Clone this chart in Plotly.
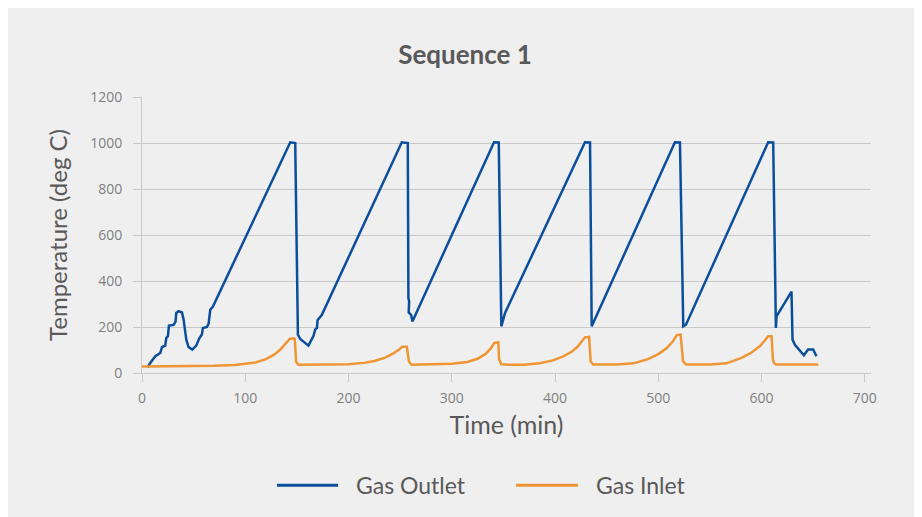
import plotly.graph_objects as go

# ---- data ----
outlet_time = [5.4, 8, 12.9, 17.7, 19.4, 22.5, 23.5, 25.1, 26.1, 30.6, 32.5, 33.2, 35.4, 38.7,
               40.3, 42.9, 45.1, 48.7, 52.5, 55.5, 58, 59, 62.9, 64.5, 66.1, 68.7,
               143.6, 148.4, 151, 153.2, 161.2, 166.1, 167.7, 169.4, 170, 174.2,
               251.6, 257.4, 258, 258.7, 258.3, 260.6, 261.9,
               340.9, 345.5, 348, 351.6,
               429, 433.9, 435.5,
               516.1, 521, 524.2, 526.8,
               606.4, 611.3, 613.9, 614.5, 629, 630, 632.3, 641, 645.1, 650, 653.2]
outlet_temp = [25, 44, 73, 87, 113, 119, 152, 160, 206, 209, 223, 261, 269, 263,
               232, 145, 113, 102, 119, 151, 167, 196, 200, 214, 275, 289,
               1003, 1000, 167, 148, 119, 162, 188, 196, 229, 253,
               1003, 1000, 326, 311, 263, 253, 224,
               1003, 1002, 203, 261,
               1003, 1002, 203,
               1003, 1002, 203, 210,
               1003, 1002, 196, 246, 354, 145, 123, 77, 102, 102, 73]

inlet_time = [0, 40, 70, 90, 100, 110, 120, 128, 134, 139, 143, 147, 148, 149.2, 151,
              152, 180, 200, 215, 225, 235, 243, 249, 252, 256.5, 258.5, 261,
              280, 300, 315, 325, 333, 338, 341, 345, 345.8, 348, 355,
              370, 385, 398, 408, 416, 422, 426, 429, 433, 434.5, 437,
              460, 476, 490, 500, 508, 514, 518, 521.6, 523, 524, 527,
              550, 566, 580, 590, 598, 603, 606.4, 609.7, 611, 612, 614, 655]
inlet_temp = [28, 29, 31, 35, 39, 46, 60, 80, 102, 125, 148, 151, 148, 50, 37,
              36, 37, 38, 44, 52, 66, 84, 102, 114, 114, 50, 36,
              37, 40, 48, 62, 84, 108, 130, 134, 60, 38, 36,
              36, 42, 55, 72, 92, 115, 137, 155, 157, 50, 37,
              37, 42, 60, 82, 107, 137, 165, 167, 80, 50, 37,
              37, 42, 65, 88, 115, 140, 160, 160, 60, 44, 37, 37]

series_names = ["Gas Outlet", "Gas Inlet"]
x_ticks = [0, 100, 200, 300, 400, 500, 600, 700]
y_ticks = [0, 200, 400, 600, 800, 1000, 1200]

title_text = "Sequence 1"
x_title = "Time (min)"
y_title = "Temperature (deg C)"

BLUE = "#0b4f9c"
ORANGE = "#ef9534"
GRID = "#c8c8c8"
BG = "#efefef"
TXT = "#595959"

W, H = 914, 509
L, R, T, B = 134, 51, 89, 143.5
PW, PH = W - L - R, H - T - B


def px_x(px):
    return (px - L) / PW


def px_y(py):
    return (H - B - py) / PH


fig = go.Figure()
fig.add_trace(go.Scatter(x=outlet_time, y=outlet_temp, mode="lines", name=series_names[0],
                         line=dict(color=BLUE, width=2.5), showlegend=False))
fig.add_trace(go.Scatter(x=inlet_time, y=inlet_temp, mode="lines", name=series_names[1],
                         line=dict(color=ORANGE, width=2.5), showlegend=False))

# custom legend (long line samples like the reference)
legend_items = [(series_names[0], BLUE, 269, 330, 346), (series_names[1], ORANGE, 508, 570, 586)]
shapes = []
annotations = []
for name, col, lx0, lx1, tx in legend_items:
    shapes.append(dict(type="line", xref="paper", yref="paper",
                       x0=px_x(lx0), x1=px_x(lx1), y0=px_y(478), y1=px_y(478),
                       line=dict(color=col, width=3)))
    annotations.append(dict(text=name, xref="paper", yref="paper", x=px_x(tx), y=px_y(478),
                            xanchor="left", yanchor="middle", showarrow=False,
                            font=dict(family="Lato", size=23, color=TXT)))

fig.update_layout(
    width=W, height=H,
    paper_bgcolor=BG, plot_bgcolor=BG,
    margin=dict(l=L, r=R, t=T, b=B),
    title=dict(text="<b>" + title_text + "</b>", x=0.5, xanchor="center", xref="container",
               y=1 - 47 / H, yref="container", yanchor="middle",
               font=dict(family="Lato", size=26, color=TXT)),
    font=dict(family="Lato", color=TXT),
    showlegend=False,
    shapes=shapes,
    annotations=annotations,
)

fig.update_xaxes(range=[0, 706], tickvals=x_ticks, showgrid=False, zeroline=False,
                 showline=True, linecolor=GRID, linewidth=1,
                 ticks="outside", ticklen=8, tickcolor=GRID, ticklabelstandoff=4,
                 tickfont=dict(family="Open Sans", size=14, color="#7f7f7f"),
                 title=dict(text=x_title, font=dict(family="Lato", size=25, color=TXT),
                            standoff=10))
fig.update_yaxes(range=[0, 1200], tickvals=y_ticks, showgrid=True, gridcolor=GRID, gridwidth=1,
                 zeroline=False, showline=True, linecolor=GRID, linewidth=1,
                 ticks="outside", ticklen=8, tickcolor=GRID, ticklabelstandoff=8,
                 tickfont=dict(family="Open Sans", size=14, color="#7f7f7f"),
                 title=dict(text=y_title, font=dict(family="Lato", size=24, color=TXT),
                            standoff=15))

fig.write_html("out.html")
